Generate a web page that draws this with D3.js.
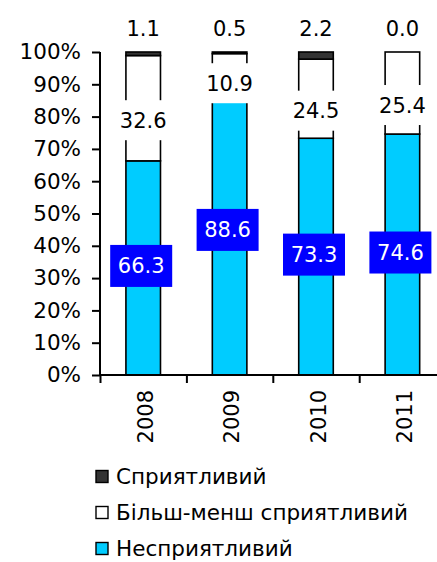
<!DOCTYPE html>
<html>
<head>
<meta charset="utf-8">
<script src="https://cdn.jsdelivr.net/npm/d3@7"></script>
<style>
  html, body { margin: 0; padding: 0; background: #fff; }
  svg { display: block; font-family: "DejaVu Sans", Verdana, sans-serif; }
</style>
</head>
<body>
<svg id="chart" width="437" height="562"></svg>
<script>
// Survey shares by year, percent
const years = ["2008", "2009", "2010", "2011"];
const unfavourable = [66.3, 88.6, 73.3, 74.6];   // Несприятливий
const moderate = [32.6, 10.9, 24.5, 25.4];       // Більш-менш сприятливий
const favourable = [1.1, 0.5, 2.2, 0.0];         // Сприятливий
const yTicks = [0, 10, 20, 30, 40, 50, 60, 70, 80, 90, 100];

const seriesKeys = ["unfav", "moder", "fav"];
const seriesNames = {
  fav: "Сприятливий",
  moder: "Більш-менш сприятливий",
  unfav: "Несприятливий"
};
const colors = { unfav: "#00CCFF", moder: "#FFFFFF", fav: "#333333" };

const rows = years.map((y, i) => ({
  year: y, unfav: unfavourable[i], moder: moderate[i], fav: favourable[i]
}));

const svg = d3.select("#chart");
const plotLeft = 100, plotRight = 445.6, plotTop = 52, plotBottom = 375;

const y = d3.scaleLinear().domain([0, 100]).range([plotBottom, plotTop]);
const x = d3.scaleBand().domain(years).range([plotLeft, plotRight])
  .paddingInner(0.6).paddingOuter(0.3);
const xEdges = d3.scaleLinear().domain([0, years.length]).range([plotLeft, plotRight]);

const stacked = d3.stack().keys(seriesKeys)(rows);

// bars
const layers = svg.append("g").selectAll("g").data(stacked).join("g")
  .attr("fill", d => colors[d.key]);
layers.selectAll("rect").data(d => d).join("rect")
  .attr("x", d => x(d.data.year))
  .attr("width", x.bandwidth())
  .attr("y", d => y(d[1]))
  .attr("height", d => y(d[0]) - y(d[1]))
  .attr("stroke", "#000")
  .attr("stroke-width", 1.6);

// y axis
const yAxis = svg.append("g")
  .attr("transform", `translate(${plotLeft},0)`)
  .call(d3.axisLeft(y).tickValues(yTicks).tickFormat(d => d + "%").tickSize(8).tickPadding(11));
yAxis.select(".domain").attr("stroke", "#000").attr("stroke-width", 2)
  .attr("d", `M0,${plotTop}V${plotBottom}`);
yAxis.selectAll(".tick line").attr("stroke", "#000").attr("stroke-width", 2);
yAxis.selectAll(".tick text").attr("font-size", 21.5).attr("fill", "#000")
  .attr("font-family", "DejaVu Sans, Verdana, sans-serif");

// x axis with ticks at category boundaries
const xAxis = svg.append("g")
  .attr("transform", `translate(0,${plotBottom})`)
  .call(d3.axisBottom(xEdges).tickValues(d3.range(years.length + 1)).tickFormat("").tickSize(8));
xAxis.select(".domain").attr("stroke", "#000").attr("stroke-width", 2)
  .attr("d", `M${plotLeft},0H${plotRight}`);
xAxis.selectAll(".tick line").attr("stroke", "#000").attr("stroke-width", 2);

// category labels, rotated
svg.append("g").selectAll("text").data(years).join("text")
  .attr("transform", d => `translate(${x(d) + x.bandwidth() / 2 + 2},390) rotate(-90)`)
  .attr("text-anchor", "end")
  .attr("dy", "0.36em")
  .attr("font-size", 21)
  .attr("fill", "#000")
  .text(d => d);

// value labels
const fmt = d3.format(".1f");
const cx = d => x(d.data.year) + x.bandwidth() / 2;

// bottom segment: blue boxes
const unfavLayer = stacked.find(s => s.key === "unfav");
const ul = svg.append("g").selectAll("g").data(unfavLayer).join("g")
  .attr("transform", d => `translate(${cx(d) - 2},${(y(d[0]) + y(d[1])) / 2 - 2})`);
ul.append("rect").attr("x", -31).attr("y", -21).attr("width", 62).attr("height", 42)
  .attr("fill", "#0000FF");
ul.append("text").attr("text-anchor", "middle").attr("dy", "0.36em")
  .attr("font-size", 21).attr("fill", "#fff")
  .text(d => fmt(d.data.unfav));

// middle segment: white boxes
const moderLayer = stacked.find(s => s.key === "moder");
const ml = svg.append("g").selectAll("g").data(moderLayer).join("g")
  .attr("transform", d => `translate(${cx(d)},${(y(d[0]) + y(d[1])) / 2 + 12})`);
ml.append("rect").attr("x", -33).attr("y", -20).attr("width", 66).attr("height", 40)
  .attr("fill", "#fff");
ml.append("text").attr("text-anchor", "middle").attr("dy", "0.36em")
  .attr("font-size", 21).attr("fill", "#000")
  .text(d => fmt(d.data.moder));

// top segment: labels above the plot
const favLayer = stacked.find(s => s.key === "fav");
svg.append("g").selectAll("text").data(favLayer).join("text")
  .attr("x", d => cx(d))
  .attr("y", y(100) - 24)
  .attr("text-anchor", "middle").attr("dy", "0.36em")
  .attr("font-size", 21).attr("fill", "#000")
  .text(d => fmt(d.data.fav));

// legend (text baselines spaced 36px)
const legendKeys = ["fav", "moder", "unfav"];
const lg = svg.append("g").selectAll("g").data(legendKeys).join("g")
  .attr("transform", (d, i) => `translate(96,${484 + i * 36})`);
lg.append("rect").attr("x", 0).attr("y", -13.5).attr("width", 12).attr("height", 12)
  .attr("fill", d => colors[d]).attr("stroke", "#000").attr("stroke-width", 1.4);
lg.append("text").attr("x", 20)
  .attr("font-size", 21.5).attr("fill", "#000")
  .text(d => seriesNames[d]);
</script>
</body>
</html>
